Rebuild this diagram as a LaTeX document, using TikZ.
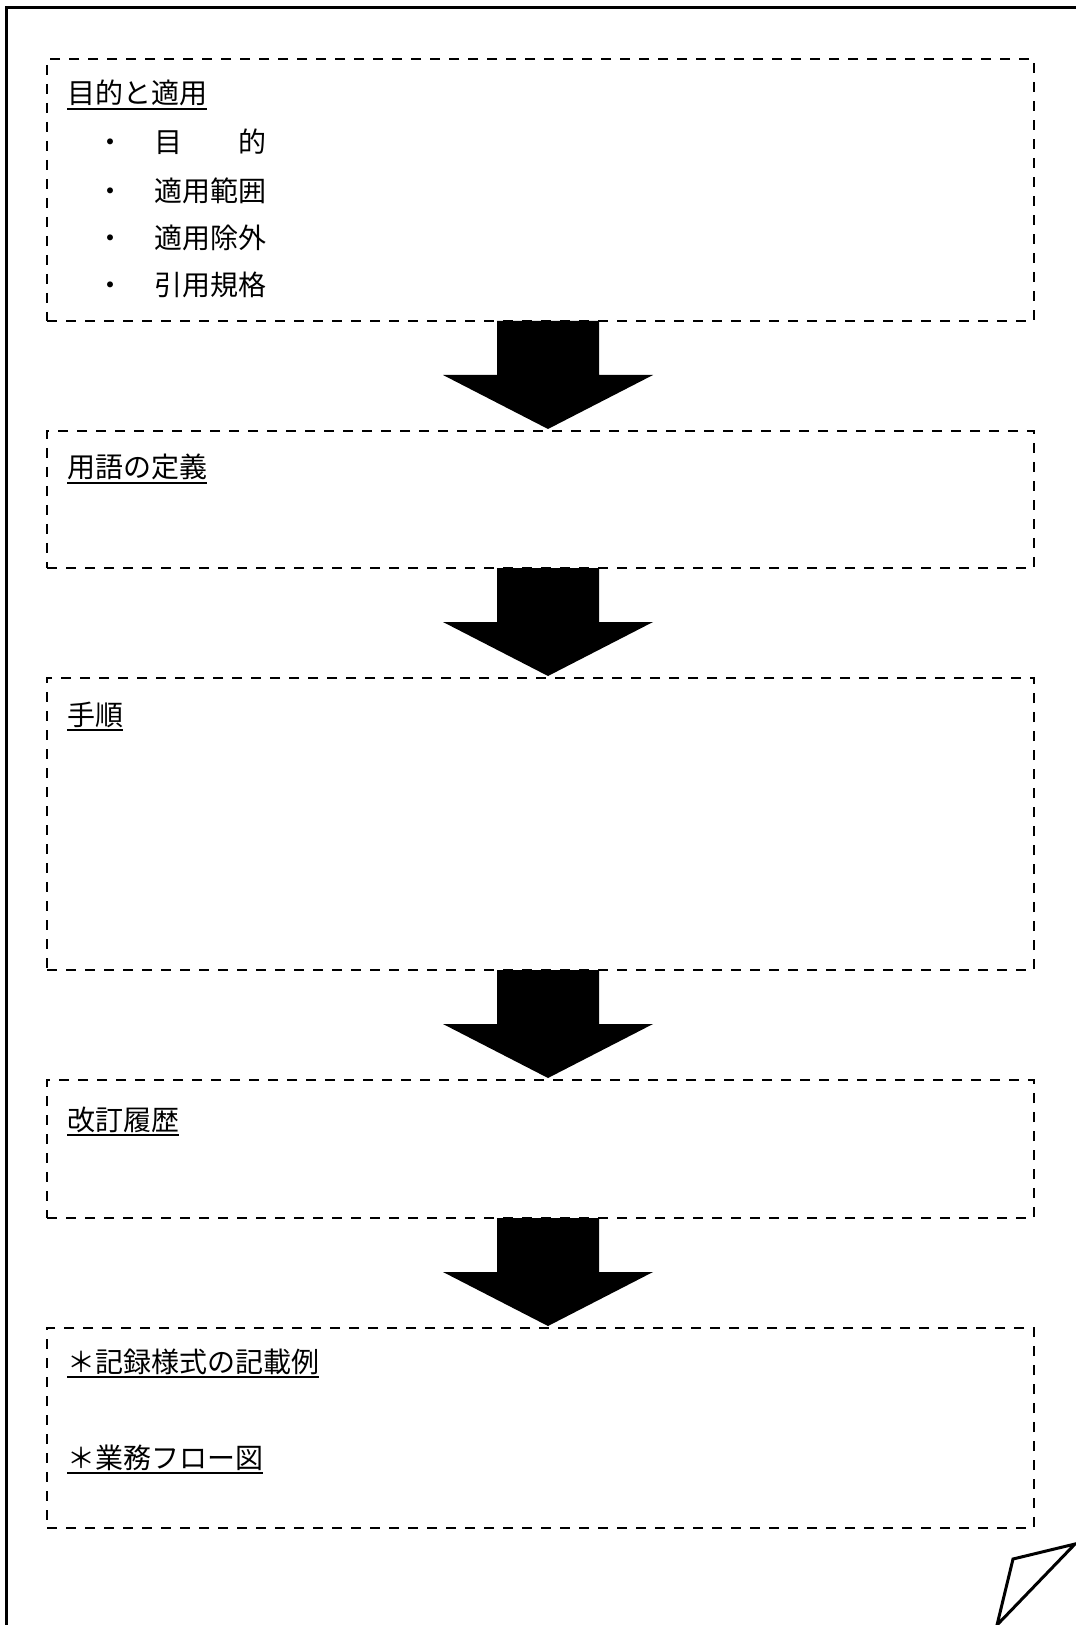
\documentclass[tikz,border=0pt]{standalone}
\usepackage{fontspec}
\setmainfont{Noto Sans CJK JP}
\usetikzlibrary{positioning,calc}
\tikzset{
  secbox/.style={draw=black, line width=1.35pt, dash pattern=on 5pt off 4.5pt, minimum width=493.5pt, inner sep=0pt, outer sep=0pt},
  headtxt/.style={anchor=base west, inner sep=0pt, font=\fontsize{14pt}{16pt}\selectfont},
  dottxt/.style={anchor=base, inner sep=0pt, font=\fontsize{14pt}{16pt}\selectfont},
  farrow/.style={fill=black},
  frameline/.style={line width=1.5pt, line join=miter}
}
\newcommand{\undl}[1]{\setbox0=\hbox{#1}\rlap{\rule[-3pt]{\wd0}{1pt}}\box0}
\newcommand{\flowarrow}[2]{%
  \fill[farrow] ($(#1.south)+(-43.5,0)$) -- ($(#1.south)+(58.5,0)$)
    -- ($(#2.north)+(58.5,-56)$) -- ($(#2.north)+(112.5,-56)$)
    -- ($(#2.north)+(7.5,-2)$) -- ($(#2.north)+(-97.5,-56)$)
    -- ($(#2.north)+(-43.5,-56)$) -- cycle;}

\begin{document}
\begin{tikzpicture}[x=0.5pt, y=-0.5pt]
\useasboundingbox (0,0) rectangle (1075,1625);
% page frame and folded corner
\draw[frameline] (6,1630) -- (6,8) -- (1080,8);
\draw[frameline] (997,1625) -- (1013,1559) -- (1075,1544) -- cycle;

% sections
\node[secbox, minimum height=131pt] (s1) at (540.5,190) {};
\node[secbox, minimum height=68.5pt, below=55pt of s1] (s2) {};
\node[secbox, minimum height=146pt, below=55pt of s2] (s3) {};
\node[secbox, minimum height=69pt, below=55pt of s3] (s4) {};
\node[secbox, minimum height=100pt, below=55pt of s4] (s5) {};

\node[headtxt] (t1) at (67,104) {\undl{目的と適用}};
\node[dottxt] (d1) at (110,153) {・};
\node[dottxt] (d2) at (110,202) {・};
\node[dottxt] (d3) at (110,249) {・};
\node[dottxt] (d4) at (110,296) {・};
\node[headtxt] (i1) at (154,153) {目　　的};
\node[headtxt] (i2) at (154,202) {適用範囲};
\node[headtxt] (i3) at (154,249) {適用除外};
\node[headtxt] (i4) at (154,296) {引用規格};

\node[headtxt] (t2) at (67,478) {\undl{用語の定義}};
\node[headtxt] (t3) at (67,725) {\undl{手順}};
\node[headtxt] (t4) at (67,1130) {\undl{改訂履歴}};
\node[headtxt] (t5) at (67,1372) {\undl{＊記録様式の記載例}};
\node[headtxt] (t6) at (67,1468) {\undl{＊業務フロー図}};

% block arrows
\flowarrow{s1}{s2}
\flowarrow{s2}{s3}
\flowarrow{s3}{s4}
\flowarrow{s4}{s5}
\end{tikzpicture}
\end{document}
